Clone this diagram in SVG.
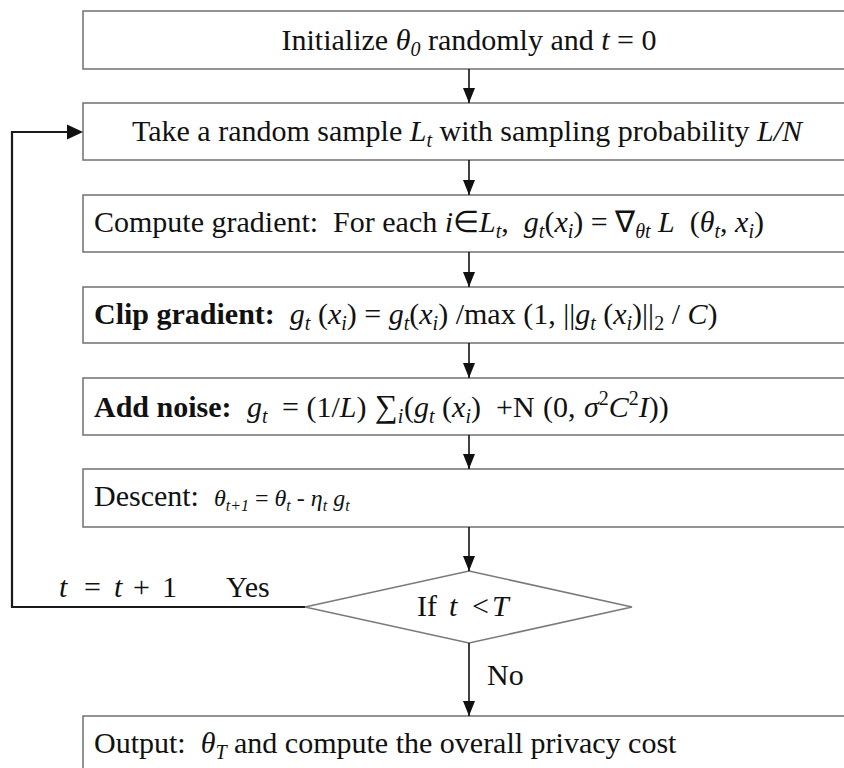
<svg xmlns="http://www.w3.org/2000/svg" width="844" height="768" viewBox="0 0 844 768">
<defs>
<style>
.box{fill:#fff;stroke:#707070;stroke-width:1.5}
.t{font-family:"Liberation Serif","Times New Roman",serif;font-size:30px;fill:#111;white-space:pre}
.i{font-style:italic}
.b{font-weight:bold}
.s{font-size:20px;font-style:italic}
.u{font-size:20px}
.m{font-size:24px}
.ms{font-size:16px;font-style:italic}
.ln{stroke:#111;stroke-width:1.6;fill:none}
.fb{stroke:#1a1a1a;stroke-width:2.2;fill:none}
</style>
<marker id="ahd" viewBox="0 0 12 15" refX="6" refY="15" markerWidth="12" markerHeight="15" markerUnits="userSpaceOnUse" orient="0">
<path d="M0,0 L12,0 L6,15 Z" fill="#111"/>
</marker>
</defs>
<rect width="844" height="768" fill="#fff"/>

<g id="init">
<rect class="box" x="83" y="11" width="790" height="58"/>
<text class="t" x="469" y="50" text-anchor="middle" xml:space="preserve">Initialize <tspan class="i">θ</tspan><tspan class="s" dy="6">0</tspan><tspan dy="-6"> randomly and </tspan><tspan class="i">t</tspan> = 0</text>
</g>

<g id="sample">
<rect class="box" x="83" y="103" width="790" height="57"/>
<text class="t" x="467" y="141" text-anchor="middle" xml:space="preserve">Take a random sample <tspan class="i">L</tspan><tspan class="s" dy="6">t</tspan><tspan dy="-6"> with sampling probability </tspan><tspan class="i">L/N</tspan></text>
</g>

<g id="compute">
<rect class="box" x="83" y="195" width="790" height="57"/>
<text class="t" x="94" y="232" xml:space="preserve">Compute gradient:  For each <tspan class="i">i</tspan>∈<tspan class="i">L</tspan><tspan class="s" dy="6">t</tspan><tspan dy="-6">,  </tspan><tspan class="i">g</tspan><tspan class="s" dy="6">t</tspan><tspan dy="-6">(</tspan><tspan class="i">x</tspan><tspan class="s" dy="6">i</tspan><tspan dy="-6">) = ∇</tspan><tspan class="s" dy="6">θt</tspan><tspan dy="-6"> </tspan><tspan class="i">L</tspan>  (<tspan class="i">θ</tspan><tspan class="s" dy="6">t</tspan><tspan dy="-6">, </tspan><tspan class="i">x</tspan><tspan class="s" dy="6">i</tspan><tspan dy="-6">)</tspan></text>
</g>

<g id="clip">
<rect class="box" x="83" y="287" width="790" height="56"/>
<text class="t" x="94" y="324" xml:space="preserve"><tspan class="b">Clip gradient:</tspan>  <tspan class="i">g</tspan><tspan class="s" dy="6">t</tspan><tspan dy="-6"> (</tspan><tspan class="i">x</tspan><tspan class="s" dy="6">i</tspan><tspan dy="-6">) = </tspan><tspan class="i">g</tspan><tspan class="s" dy="6">t</tspan><tspan dy="-6">(</tspan><tspan class="i">x</tspan><tspan class="s" dy="6">i</tspan><tspan dy="-6">) /max (1, ||</tspan><tspan class="i">g</tspan><tspan class="s" dy="6">t</tspan><tspan dy="-6"> (</tspan><tspan class="i">x</tspan><tspan class="s" dy="6">i</tspan><tspan dy="-6">)||</tspan><tspan class="u" dy="6">2</tspan><tspan dy="-6"> / </tspan><tspan class="i">C</tspan>)</text>
</g>

<g id="noise">
<rect class="box" x="83" y="378" width="790" height="57"/>
<text class="t" x="94" y="417" xml:space="preserve"><tspan class="b">Add noise:</tspan><tspan class="i" x="247">g</tspan><tspan class="s" dy="6">t</tspan><tspan x="282" dy="-6">= (1/</tspan><tspan class="i">L</tspan>)<tspan x="375" font-size="32">∑</tspan><tspan class="s" dy="6">i</tspan><tspan x="404" dy="-6">(</tspan><tspan class="i">g</tspan><tspan class="s" dy="6">t</tspan><tspan dy="-6"> (</tspan><tspan class="i">x</tspan><tspan class="s" dy="6">i</tspan><tspan dy="-6">)</tspan><tspan x="496">+N</tspan><tspan x="543">(0, </tspan><tspan class="i" x="584">σ</tspan><tspan class="u" dy="-12">2</tspan><tspan class="i" dy="12">C</tspan><tspan class="u" dy="-12">2</tspan><tspan class="i" dy="12">I</tspan>))</text>
</g>

<g id="descent">
<rect class="box" x="83" y="469" width="790" height="58"/>
<text class="t" x="94" y="506" xml:space="preserve">Descent:  <tspan class="m"><tspan class="i">θ</tspan><tspan class="ms" dy="5">t+1</tspan><tspan dy="-5"> = </tspan><tspan class="i">θ</tspan><tspan class="ms" dy="5">t</tspan><tspan dy="-5"> - </tspan><tspan class="i">η</tspan><tspan class="ms" dy="5">t</tspan><tspan dy="-5"> </tspan><tspan class="i">g</tspan><tspan class="ms" dy="5">t</tspan></tspan></text>
</g>

<g id="decision">
<polygon points="469,571 632,607 469,643 305,607" fill="#fff" stroke="#7a7a7a" stroke-width="1.5"/>
<text class="t" y="616" xml:space="preserve"><tspan x="417">If</tspan><tspan class="i" x="449">t</tspan><tspan x="472">&lt;</tspan><tspan class="i" x="492">T</tspan></text>
</g>

<g id="output">
<rect class="box" x="83" y="716" width="790" height="70"/>
<text class="t" x="94" y="753" xml:space="preserve">Output:  <tspan class="i">θ</tspan><tspan class="s" dy="6">T</tspan><tspan dy="-6"> and compute the overall privacy cost</tspan></text>
</g>

<g id="connectors">
<line class="ln" x1="469" y1="69" x2="469" y2="103" marker-end="url(#ahd)"/>
<line class="ln" x1="469" y1="160" x2="469" y2="195" marker-end="url(#ahd)"/>
<line class="ln" x1="469" y1="252" x2="469" y2="287" marker-end="url(#ahd)"/>
<line class="ln" x1="469" y1="343" x2="469" y2="378" marker-end="url(#ahd)"/>
<line class="ln" x1="469" y1="435" x2="469" y2="469" marker-end="url(#ahd)"/>
<line class="ln" x1="469" y1="527" x2="469" y2="571" marker-end="url(#ahd)"/>
<line class="ln" x1="469" y1="643" x2="469" y2="716" marker-end="url(#ahd)"/>
<polyline class="fb" points="305,607 12,607 12,132 70,132"/>
<path d="M67,124.5 L83,132 L67,139.5 Z" fill="#111"/>
<text class="t" y="597" xml:space="preserve"><tspan class="i" x="59">t</tspan><tspan x="84">=</tspan><tspan class="i" x="114">t</tspan><tspan x="133">+</tspan><tspan x="162">1</tspan><tspan x="226">Yes</tspan></text>
<text class="t" x="487" y="685">No</text>
</g>
</svg>
